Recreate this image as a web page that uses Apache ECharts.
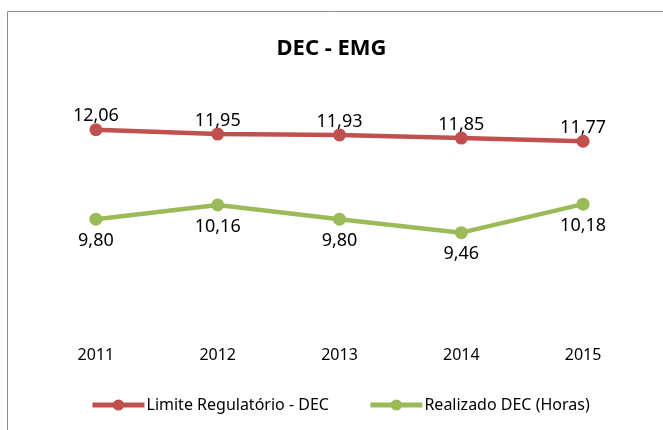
<!DOCTYPE html>
<html lang="pt">
<head>
    <meta charset="UTF-8">
    <title>DEC - EMG</title>
    <style>
        html, body { margin: 0; padding: 0; background: #fff; }
    </style>
</head>
<body>
<div id="main" style="width: 663px;height:430px;"></div>

<script type="text/javascript" src="https://cdn.jsdelivr.net/npm/echarts@6/dist/echarts.min.js"></script>
<script>
    // dados do gráfico
    var anos = ['2011', '2012', '2013', '2014', '2015'];
    var limiteDEC = [12.06, 11.95, 11.93, 11.85, 11.77];
    var realizadoDEC = [9.80, 10.16, 9.80, 9.46, 10.18];

    var colors = ['#C0504D', '#9BBB59'];
    var fonte = '"Noto Sans", "DejaVu Sans", sans-serif';

    function virgula(p) {
        return p.value.toFixed(2).replace('.', ',');
    }

    var myChart = echarts.init(document.getElementById('main'));

    var option = {
        color: colors,
        animation: false,
        textStyle: { fontFamily: fonte },
        title: {
            text: 'DEC - EMG',
            left: 'center',
            top: 33,
            textStyle: { fontSize: 22, fontWeight: 'bold', color: '#000', fontFamily: fonte }
        },
        graphic: [{
            type: 'rect',
            shape: { x: 7.5, y: 11.5, width: 700, height: 500 },
            style: { fill: 'none', stroke: '#8c8c8c', lineWidth: 1 },
            silent: true
        }],
        legend: {
            left: 85,
            top: 392,
            itemWidth: 52,
            itemHeight: 14,
            itemGap: 39,
            lineStyle: { width: 5 },
            textStyle: { fontSize: 16, color: '#000', fontFamily: fonte, padding: [0, 0, 0, -3] },
            data: ['Limite Regulatório - DEC', 'Realizado DEC (Horas)']
        },
        grid: { left: 35, right: 19, top: 53, bottom: 100 },
        xAxis: {
            type: 'category',
            data: anos,
            boundaryGap: true,
            axisLine: { show: false },
            axisTick: { show: false },
            axisLabel: { fontSize: 16, color: '#000', margin: 17, fontFamily: fonte }
        },
        yAxis: {
            type: 'value',
            min: 7,
            max: 14,
            show: false,
            splitLine: { show: false }
        },
        series: [
            {
                name: 'Limite Regulatório - DEC',
                type: 'line',
                data: limiteDEC,
                symbol: 'circle',
                symbolSize: 13,
                lineStyle: { width: 4.5 },
                label: {
                    show: true,
                    position: 'top',
                    distance: -2,
                    fontSize: 18,
                    color: '#000',
                    fontFamily: fonte,
                    formatter: virgula
                }
            },
            {
                name: 'Realizado DEC (Horas)',
                type: 'line',
                data: realizadoDEC,
                symbol: 'circle',
                symbolSize: 13,
                lineStyle: { width: 4.5 },
                label: {
                    show: true,
                    position: 'bottom',
                    distance: 6,
                    fontSize: 18,
                    color: '#000',
                    fontFamily: fonte,
                    formatter: virgula
                }
            }
        ]
    };

    myChart.setOption(option);
</script>
</body>
</html>
